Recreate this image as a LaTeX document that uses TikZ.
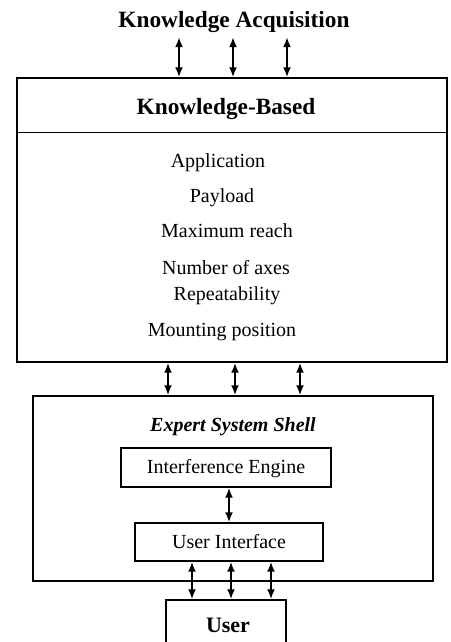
\documentclass[tikz,border=0pt]{standalone}
\usepackage{fontspec}
\setmainfont{Liberation Serif}
\usetikzlibrary{arrows.meta}
\begin{document}
\begin{tikzpicture}[x=1pt,y=-1pt,
  box/.style={draw, line width=1.4pt, rectangle, inner sep=0pt},
  lbl/.style={font=\fontsize{20}{24}\selectfont, inner sep=0pt, anchor=base},
  head/.style={font=\fontsize{23.3}{27}\selectfont\bfseries, inner sep=0pt, anchor=base},
  link/.style={line width=2.2pt, {Latex[length=10pt,width=8pt]}-{Latex[length=10pt,width=8pt]}}]
\useasboundingbox (0,0) rectangle (450,642);
\clip (0,0) rectangle (450,642);

% knowledge acquisition and the knowledge base
\node[head, outer sep=4pt] (acq) at (234,28) {Knowledge Acquisition};
\node[box, minimum width=430pt, minimum height=284pt] (kb) at (232,220) {};
\draw[line width=1.4pt] ([yshift=-55pt]kb.north west) -- ([yshift=-55pt]kb.north east);
\node[head] (kbt) at (226,114) {Knowledge-Based};
\node[lbl] (app) at (218,167) {Application};
\node[lbl] (pay) at (222,202) {Payload};
\node[lbl] (reach) at (227,237) {Maximum reach};
\node[lbl] (axes) at (226,274) {Number of axes};
\node[lbl] (rep) at (227,300) {Repeatability};
\node[lbl] (mount) at (222,336) {Mounting position};

\foreach \dx in {-55,-1,53}
  \draw[link] ([xshift=\dx pt]acq.south) -- ([xshift=\dx pt]acq.south |- kb.north);

% expert system shell
\node[box, minimum width=400pt, minimum height=185pt] (shell) at (233,488.5) {};
\node[lbl, font=\fontsize{20}{24}\selectfont\bfseries\itshape] (shellt) at (233,431) {Expert System Shell};
\node[box, minimum width=210pt, minimum height=39pt] (ie) at (226,467.5) {};
\node[lbl] (iet) at (226,473) {Interference Engine};
\node[box, minimum width=188pt, minimum height=38pt] (ui) at (229,542) {};
\node[lbl] (uit) at (229,548) {User Interface};

\foreach \dx in {-64,3,68}
  \draw[link] ([xshift=\dx pt]kb.south) -- ([xshift=\dx pt]kb.south |- shell.north);
\draw[link] (ie.south -| 229,0) -- (ui.north -| 229,0);

% user
\node[box, minimum width=120pt, minimum height=60pt] (user) at (226,630) {};
\node[head, font=\fontsize{22}{26}\selectfont\bfseries] (usert) at (228,632) {User};

\foreach \dx in {-37,2,42}
  \draw[link] ([xshift=\dx pt]ui.south) -- ([xshift=\dx pt]ui.south |- user.north);
\end{tikzpicture}
\end{document}
